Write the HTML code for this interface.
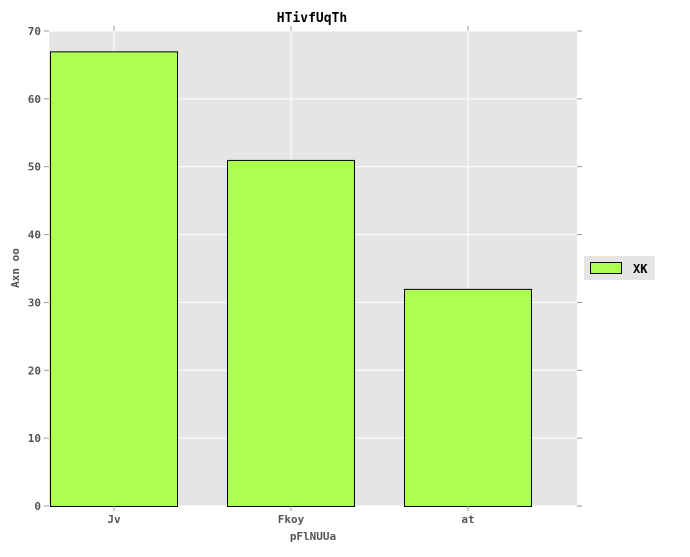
<!DOCTYPE html>
<html><head><meta charset="utf-8"><style>
body{margin:0;background:#fff}
text{font-family:"DejaVu Sans Mono","Liberation Mono",monospace;font-weight:bold}
</style></head><body>
<svg id="chart" width="690" height="552" xmlns="http://www.w3.org/2000/svg">
<rect x="49" y="31" width="528" height="475" fill="#e5e5e5"/>
<g id="grid"></g><g id="bars"></g><g id="axes"></g>
<text x="312" y="22" text-anchor="middle" font-size="13" fill="#000">HTivfUqTh</text>
<text x="313" y="540" text-anchor="middle" font-size="11" fill="#555">pFlNUUa</text>
<text transform="translate(19,268) rotate(-90)" text-anchor="middle" font-size="11" fill="#555">Axn oo</text>
<g>
<rect x="584" y="256" width="71" height="24" fill="#e5e5e5"/>
<rect x="590.5" y="262.5" width="31" height="11" fill="#adff4f" stroke="#000" stroke-width="1"/>
<text x="633" y="273" font-size="12" fill="#000">XK</text>
</g>
</svg>
<script>
const categories=["Jv","Fkoy","at"];
const values=[67,51,32];
const yTicks=[0,10,20,30,40,50,60,70];
const NS="http://www.w3.org/2000/svg";
const yS=v=>506-v*(475/70);
const xS=i=>114+177*i;
const g=document.getElementById('grid'),b=document.getElementById('bars'),a=document.getElementById('axes');
function mk(p,t,at){const e=document.createElementNS(NS,t);for(const k in at)e.setAttribute(k,at[k]);p.appendChild(e);return e;}
yTicks.forEach(v=>{const y=yS(v);
const l=mk(g,'line',{x1:49,x2:577,y1:y,y2:y,stroke:'#fff','stroke-width':1});


const t=mk(a,'line',{x1:44,x2:49,y1:y,y2:y,stroke:'#999'});


const t2=mk(a,'line',{x1:577,x2:582,y1:y,y2:y,stroke:'#999'});


const tx=mk(a,'text',{x:41,y:y+4,'text-anchor':'end','font-size':'11',fill:'#555'});tx.textContent=v;


});
categories.forEach((c,i)=>{const x=xS(i);
const l=mk(g,'line',{x1:x,x2:x,y1:31,y2:506,stroke:'#fff','stroke-width':1});


const t=mk(a,'line',{x1:x,x2:x,y1:26,y2:31,stroke:'#999'});


const t2=mk(a,'line',{x1:x,x2:x,y1:506,y2:511,stroke:'#999'});


const tx=mk(a,'text',{x:x,y:523,'text-anchor':'middle','font-size':'11',fill:'#555'});tx.textContent=c;


const y=yS(values[i]);
const r=mk(b,'rect',{x:x-63.5,y:y+0.5,width:127,height:506-y,fill:'#adff4f',stroke:'#000','stroke-width':1});


});
</script>
</body></html>
